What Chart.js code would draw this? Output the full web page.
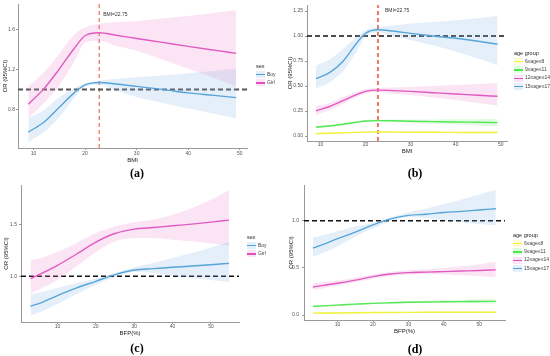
<!DOCTYPE html>
<html>
<head>
<meta charset="utf-8">
<script src="https://cdn.jsdelivr.net/npm/chart.js@4.4.0/dist/chart.umd.min.js"></script>
<style>
  body { margin: 0; background: #fff; font-family: "Liberation Sans", Arial, sans-serif; }
  #wrap { position: relative; width: 550px; height: 356px; overflow: hidden; }
  canvas { position: absolute; }
  .cap { position: absolute; font-family: "Liberation Serif", "DejaVu Serif", serif; font-weight: bold; font-size: 12px; transform: translate(-50%, -50%); }
  .leg { position: absolute; font-size: 5px; color: #444; line-height: 8px; }
  .leg .t { font-size: 5.5px; color: #222; }
  .leg .k { display: inline-block; position: relative; width: 9px; height: 7px; vertical-align: middle; margin-right: 2px; }
  .leg .k i { position: absolute; left: 0; right: 0; top: 3px; height: 1.2px; }
</style>
</head>
<body>
<div id="wrap">
  <canvas id="ca" width="275" height="166" style="left:0;top:0"></canvas>
  <canvas id="cb" width="275" height="160" style="left:275px;top:0"></canvas>
  <canvas id="cc" width="275" height="166" style="left:0;top:178px"></canvas>
  <canvas id="cd" width="275" height="166" style="left:275px;top:178px"></canvas>
  <div class="cap" style="left:137px;top:173px">(a)</div>
  <div class="cap" style="left:415px;top:173px">(b)</div>
  <div class="cap" style="left:137px;top:348px">(c)</div>
  <div class="cap" style="left:415px;top:349px">(d)</div>
  <div class="leg" id="la" style="left:256px;top:62px"></div>
  <div class="leg" id="lb" style="left:514px;top:49px"></div>
  <div class="leg" id="lc" style="left:247px;top:233px"></div>
  <div class="leg" id="ld" style="left:513px;top:231px"></div>
</div>
<script>
// datos
const bmiX = [9, 12, 15, 18, 20, 22.75, 26, 30, 35, 40, 45, 49.3];
const bfpX = [3, 6, 10, 15, 20, 25, 30, 35, 40, 45, 50, 54.7];

const sexLabels = ['Boy', 'Girl'];
const ageLabels = ['6≤age≤8', '9≤age≤11', '12≤age≤14', '15≤age≤17'];

// (a) BMI por sexo
const aBoy      = [0.57, 0.67, 0.82, 0.97, 1.045, 1.07, 1.055, 1.03, 1.00, 0.965, 0.94, 0.917];
const aBoyUp    = [0.71, 0.79, 0.92, 1.015, 1.06, 1.09, 1.105, 1.123, 1.14, 1.163, 1.185, 1.207];
const aBoyLo    = [0.47, 0.57, 0.72, 0.92, 1.03, 1.05, 0.99, 0.923, 0.865, 0.807, 0.755, 0.707];
const aGirl     = [0.85, 1.005, 1.205, 1.42, 1.54, 1.57, 1.545, 1.513, 1.473, 1.433, 1.395, 1.363];
const aGirlUp   = [1.03, 1.17, 1.36, 1.555, 1.62, 1.66, 1.675, 1.69, 1.715, 1.74, 1.77, 1.797];
const aGirlLo   = [0.71, 0.86, 1.04, 1.29, 1.47, 1.49, 1.44, 1.39, 1.30, 1.207, 1.115, 1.03];
const aTicksX = [10, 20, 30, 40, 50];
const aTicksY = ['0.8', '1.2', '1.6'];

// (b) BMI por grupo de edad
const b6    = [0.023, 0.028, 0.032, 0.036, 0.039, 0.04, 0.039, 0.038, 0.037, 0.036, 0.035, 0.035];
const b6Up  = [0.03, 0.034, 0.038, 0.042, 0.045, 0.046, 0.046, 0.046, 0.046, 0.046, 0.046, 0.047];
const b6Lo  = [0.016, 0.022, 0.026, 0.03, 0.033, 0.034, 0.032, 0.03, 0.028, 0.026, 0.025, 0.024];
const b9    = [0.088, 0.10, 0.118, 0.138, 0.15, 0.154, 0.152, 0.148, 0.144, 0.14, 0.137, 0.134];
const b9Up  = [0.10, 0.11, 0.128, 0.148, 0.16, 0.164, 0.165, 0.165, 0.166, 0.167, 0.168, 0.17];
const b9Lo  = [0.076, 0.09, 0.108, 0.128, 0.14, 0.144, 0.139, 0.131, 0.122, 0.114, 0.106, 0.099];
const b12   = [0.252, 0.295, 0.354, 0.413, 0.446, 0.459, 0.454, 0.446, 0.433, 0.42, 0.408, 0.397];
const b12Up = [0.30, 0.33, 0.39, 0.44, 0.47, 0.48, 0.485, 0.49, 0.50, 0.51, 0.52, 0.53];
const b12Lo = [0.21, 0.26, 0.32, 0.39, 0.425, 0.44, 0.425, 0.41, 0.385, 0.36, 0.33, 0.305];
const b15   = [0.574, 0.633, 0.748, 0.928, 1.026, 1.062, 1.05, 1.026, 1.00, 0.977, 0.947, 0.918];
const b15Up = [0.705, 0.764, 0.869, 0.993, 1.059, 1.089, 1.105, 1.125, 1.14, 1.157, 1.178, 1.20];
const b15Lo = [0.475, 0.534, 0.649, 0.846, 0.993, 1.036, 1.00, 0.961, 0.905, 0.846, 0.775, 0.708];
const bTicksX = [10, 20, 30, 40, 50];
const bTicksY = ['0.00', '0.25', '0.50', '0.75', '1.00', '1.25'];

// (c) BFP por sexo
const cBoy    = [0.712, 0.75, 0.814, 0.888, 0.952, 1.016, 1.061, 1.074, 1.087, 1.099, 1.112, 1.125];
const cBoyUp  = [0.824, 0.85, 0.888, 0.936, 0.978, 1.032, 1.087, 1.128, 1.176, 1.224, 1.279, 1.33];
const cBoyLo  = [0.622, 0.663, 0.734, 0.83, 0.92, 0.994, 1.042, 1.032, 1.006, 0.984, 0.965, 0.946];
const cGirl   = [0.978, 1.03, 1.106, 1.215, 1.33, 1.413, 1.455, 1.47, 1.487, 1.503, 1.522, 1.542];
const cGirlUp = [1.157, 1.18, 1.234, 1.32, 1.417, 1.48, 1.52, 1.545, 1.593, 1.657, 1.737, 1.83];
const cGirlLo = [0.833, 0.888, 0.968, 1.096, 1.234, 1.337, 1.369, 1.369, 1.353, 1.337, 1.317, 1.298];
const cTicksX = [10, 20, 30, 40, 50];
const cTicksY = ['1.0', '1.5'];

// (d) BFP por grupo de edad
const d6    = [0.02, 0.021, 0.022, 0.024, 0.026, 0.027, 0.028, 0.029, 0.029, 0.03, 0.03, 0.03];
const d6Up  = [0.027, 0.027, 0.028, 0.03, 0.032, 0.034, 0.035, 0.036, 0.037, 0.038, 0.039, 0.04];
const d6Lo  = [0.013, 0.015, 0.016, 0.018, 0.02, 0.021, 0.022, 0.022, 0.022, 0.022, 0.021, 0.021];
const d9    = [0.092, 0.097, 0.105, 0.115, 0.124, 0.13, 0.135, 0.138, 0.14, 0.142, 0.144, 0.145];
const d9Up  = [0.104, 0.108, 0.115, 0.124, 0.133, 0.14, 0.146, 0.151, 0.156, 0.161, 0.166, 0.17];
const d9Lo  = [0.08, 0.086, 0.095, 0.106, 0.115, 0.121, 0.125, 0.126, 0.125, 0.124, 0.122, 0.12];
const d12   = [0.298, 0.315, 0.337, 0.37, 0.408, 0.435, 0.45, 0.455, 0.461, 0.467, 0.473, 0.479];
const d12Up = [0.335, 0.348, 0.365, 0.395, 0.43, 0.458, 0.475, 0.485, 0.50, 0.517, 0.54, 0.565];
const d12Lo = [0.265, 0.285, 0.31, 0.348, 0.385, 0.413, 0.43, 0.432, 0.43, 0.423, 0.415, 0.40];
const d15   = [0.709, 0.75, 0.81, 0.88, 0.957, 1.02, 1.057, 1.07, 1.088, 1.10, 1.115, 1.128];
const d15Up = [0.82, 0.85, 0.89, 0.94, 0.98, 1.035, 1.087, 1.13, 1.175, 1.225, 1.28, 1.33];
const d15Lo = [0.62, 0.66, 0.73, 0.83, 0.92, 0.995, 1.04, 1.03, 1.005, 0.985, 0.965, 0.95];
const dTicksX = [10, 20, 30, 40, 50];
const dTicksY = ['0.0', '0.5', '1.0'];

const cutBMI = 22.75;

// colores
const colBoy = '#4fa2d8', fillBoy = 'rgba(120,175,225,0.2)';
const colGirl = '#de4fc0', fillGirl = 'rgba(235,130,200,0.22)';
const colYel = '#f2f233', fillYel = 'rgba(245,245,120,0.25)';
const colGrn = '#4de64d', fillGrn = 'rgba(120,235,120,0.22)';

function pts(xs, ys) {
  return xs.map((x, i) => ({ x, y: ys[i] }));
}

// banda de confianza + línea
function serie(xs, up, lo, mid, col, fill) {
  return [
    { data: pts(xs, up), borderWidth: 0, pointRadius: 0, backgroundColor: fill, fill: '+1', cubicInterpolationMode: 'monotone' },
    { data: pts(xs, lo), borderWidth: 0, pointRadius: 0, fill: false, cubicInterpolationMode: 'monotone' },
    { data: pts(xs, mid), borderColor: col, borderWidth: 1.4, pointRadius: 0, fill: false, cubicInterpolationMode: 'monotone' }
  ];
}

function refLines(xmin, xmax, ymin, ymax, hColor, hWidth, cutWidth) {
  const out = [{ data: [{ x: xmin, y: 1 }, { x: xmax, y: 1 }], borderColor: hColor, borderWidth: hWidth, borderDash: [5, 3], pointRadius: 0, fill: false }];
  if (cutWidth) {
    out.push({ data: [{ x: cutBMI, y: ymin }, { x: cutBMI, y: ymax }], borderColor: '#f07864', borderWidth: cutWidth, borderDash: [4, 3], pointRadius: 0, fill: false });
  }
  return out;
}

const cutLabel = {
  id: 'cutLabel',
  afterDraw(chart, args, opts) {
    if (!opts.show) return;
    const ctx = chart.ctx;
    const x = chart.scales.x.getPixelForValue(cutBMI) + opts.dx;
    ctx.save();
    ctx.font = '5px "Liberation Sans", Arial, sans-serif';
    ctx.fillStyle = '#333';
    ctx.textBaseline = 'middle';
    ctx.fillText('BMI=22.75', x, chart.chartArea.top + opts.dy);
    ctx.restore();
  }
};

function makeChart(id, p) {
  const yLabels = p.yTicks;
  return new Chart(document.getElementById(id), {
    type: 'line',
    data: { datasets: p.datasets },
    plugins: [cutLabel],
    options: {
      responsive: false,
      animation: false,
      devicePixelRatio: 1,
      layout: { padding: p.pad },
      plugins: { legend: { display: false }, tooltip: { enabled: false }, cutLabel: p.cut },
      scales: {
        x: {
          type: 'linear', min: p.xmin, max: p.xmax,
          afterBuildTicks: s => { s.ticks = p.xTicks.map(v => ({ value: v })); },
          afterFit: s => { s.height = p.xH; },
          grid: { drawOnChartArea: false, tickLength: p.xTl, color: '#999' },
          border: { color: '#9a9a9a', width: 1 },
          ticks: { padding: p.xPad, color: '#555', font: { size: 5, family: '"Liberation Sans", Arial' }, maxRotation: 0, callback: v => String(v) },
          title: { display: true, text: p.xTitle, color: '#222', font: { size: 6, family: '"Liberation Sans", Arial' }, padding: { top: 0, bottom: p.xTitlePad } }
        },
        y: {
          type: 'linear', min: p.ymin, max: p.ymax,
          afterBuildTicks: s => { s.ticks = yLabels.map(v => ({ value: parseFloat(v) })); },
          afterFit: s => { s.width = p.yW; },
          grid: { drawOnChartArea: false, tickLength: 2, color: '#999' },
          border: { color: '#9a9a9a', width: 1 },
          ticks: { padding: p.yPad, color: '#555', font: { size: 5, family: '"Liberation Sans", Arial' }, callback: (v, i) => yLabels[i] },
          title: { display: true, text: 'OR (95%CI)', color: '#222', font: { size: 6, family: '"Liberation Sans", Arial' }, padding: { top: p.yTitlePad, bottom: 0 } }
        }
      }
    }
  });
}

// (a)
makeChart('ca', {
  datasets: [].concat(
    serie(bmiX, aBoyUp, aBoyLo, aBoy, colBoy, fillBoy),
    serie(bmiX, aGirlUp, aGirlLo, aGirl, colGirl, fillGirl),
    refLines(7.0, 51.4, 0.41, 1.86, '#555', 2, 1.3)
  ),
  xmin: 7.0, xmax: 51.4, ymin: 0.41, ymax: 1.86,
  xTicks: aTicksX, yTicks: aTicksY, xTitle: 'BMI',
  pad: { left: 0, top: 3, right: 28, bottom: 0 },
  xH: 18, yW: 18, xTl: 2, xPad: 1, yPad: 1, xTitlePad: 2.4, yTitlePad: 1.4,
  cut: { show: true, dx: 4, dy: 11 }
});

// (b)
makeChart('cb', {
  datasets: [].concat(
    serie(bmiX, b6Up, b6Lo, b6, colYel, fillYel),
    serie(bmiX, b9Up, b9Lo, b9, colGrn, fillGrn),
    serie(bmiX, b12Up, b12Lo, b12, colGirl, fillGirl),
    serie(bmiX, b15Up, b15Lo, b15, colBoy, fillBoy),
    refLines(7.0, 51.4, -0.05, 1.31, '#111', 1.5, 2)
  ),
  xmin: 7.0, xmax: 51.4, ymin: -0.05, ymax: 1.31,
  xTicks: bTicksX, yTicks: bTicksY, xTitle: 'BMI',
  pad: { left: 10, top: 3, right: 43, bottom: 0 },
  xH: 19, yW: 22, xTl: 1, xPad: 0, yPad: 2, xTitlePad: 4.7, yTitlePad: 2.1,
  cut: { show: true, dx: 7, dy: 6 }
});

// (c)
makeChart('cc', {
  datasets: [].concat(
    serie(bfpX, cBoyUp, cBoyLo, cBoy, colBoy, fillBoy),
    serie(bfpX, cGirlUp, cGirlLo, cGirl, colGirl, fillGirl),
    refLines(0.5, 57.3, 0.56, 1.88, '#111', 1.5, 0)
  ),
  xmin: 0.5, xmax: 57.3, ymin: 0.56, ymax: 1.88,
  xTicks: cTicksX, yTicks: cTicksY, xTitle: 'BFP(%)',
  pad: { left: 0, top: 7, right: 36, bottom: 0 },
  xH: 22, yW: 21, xTl: 2, xPad: 0, yPad: 2, xTitlePad: 7.4, yTitlePad: 3.1,
  cut: { show: false }
});

// (d)
makeChart('cd', {
  datasets: [].concat(
    serie(bfpX, d6Up, d6Lo, d6, colYel, fillYel),
    serie(bfpX, d9Up, d9Lo, d9, colGrn, fillGrn),
    serie(bfpX, d12Up, d12Lo, d12, colGirl, fillGirl),
    serie(bfpX, d15Up, d15Lo, d15, colBoy, fillBoy),
    refLines(0.5, 57.3, -0.053, 1.38, '#111', 1.5, 0)
  ),
  xmin: 0.5, xmax: 57.3, ymin: -0.053, ymax: 1.38,
  xTicks: dTicksX, yTicks: dTicksY, xTitle: 'BFP(%)',
  pad: { left: 10, top: 7, right: 45, bottom: 0 },
  xH: 24, yW: 19, xTl: 2, xPad: 0, yPad: 3, xTitlePad: 9.4, yTitlePad: 3.1,
  cut: { show: false }
});

// leyendas
function legend(id, title, labels, cols, fills) {
  let html = '<div class="t">' + title + '</div>';
  labels.forEach((l, i) => {
    html += '<div><span class="k" style="background:' + fills[i] + '"><i style="background:' + cols[i] + '"></i></span>' + l + '</div>';
  });
  document.getElementById(id).innerHTML = html;
}
legend('la', 'sex', sexLabels, [colBoy, colGirl], [fillBoy, fillGirl]);
legend('lc', 'sex', sexLabels, [colBoy, colGirl], [fillBoy, fillGirl]);
legend('lb', 'age  group', ageLabels, [colYel, colGrn, colGirl, colBoy], [fillYel, fillGrn, fillGirl, fillBoy]);
legend('ld', 'age  group', ageLabels, [colYel, colGrn, colGirl, colBoy], [fillYel, fillGrn, fillGirl, fillBoy]);
</script>
</body>
</html>
